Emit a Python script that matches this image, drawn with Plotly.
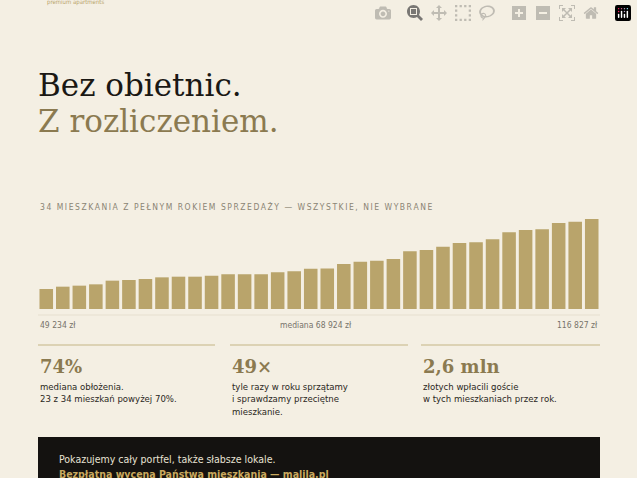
import plotly.graph_objects as go

## Datos: ingreso anual de 34 mieszkań (zł), posortowane
mieszkania = list(range(1, 35))
przychod = [49234, 51470, 52440, 53730, 57270, 57900, 58870, 60480, 61120, 61120,
            62090, 63380, 63380, 63500, 65310, 66270, 68800, 69050, 73350, 75600,
            76570, 78180, 85580, 86860, 90080, 93620, 94260, 97160, 103910, 106170,
            106810, 112920, 114210, 116827]
etykiety_osi = ["49 234 zł", "mediana 68 924 zł", "116 827 zł"]
statystyki = ["74%", "49×", "2,6 mln"]
opisy = ["mediana obłożenia.<br>23 z 34 mieszkań powyżej 70%.",
         "tyle razy w roku sprzątamy<br>i sprawdzamy przeciętne<br>mieszkanie.",
         "złotych wpłacili goście<br>w tych mieszkaniach przez rok."]

W, H = 637, 478
BG = "#f4efe3"
GOLD = "#b9a46b"
DARKGOLD = "#8b7a50"
SANS = "DejaVu Sans Condensed, DejaVu Sans"
SERIF = "DejaVu Serif"

def py(p):  # piksel -> współrzędna paper
    return 1 - p / H

def px_(p):
    return p / W

def rozstaw(s):
    return "\u2009".join(s)

fig = go.Figure(go.Bar(x=mieszkania, y=przychod, marker_color=GOLD,
                       marker_line_width=0, width=0.82))

fig.update_layout(
    width=W, height=H, margin=dict(l=0, r=0, t=0, b=0),
    paper_bgcolor=BG, plot_bgcolor=BG, showlegend=False,
    xaxis=dict(domain=[px_(38), px_(600)], range=[0.5, 34.5], visible=False),
    yaxis=dict(domain=[py(309), py(219)], range=[29900, 116827], visible=False),
)

ann = []
def tekst(x, y, t, size, color, font=SANS, anchor="left", yanchor="middle"):
    ann.append(dict(x=px_(x), y=py(y), xref="paper", yref="paper", text=t,
                    showarrow=False, xanchor=anchor, yanchor=yanchor, align="left",
                    font=dict(size=size, color=color, family=font)))

tekst(45, 2, "premium apartments", 6, "#b9a46b")
tekst(36, 85, "Bez obietnic.", 31, "#1a1814", SERIF)
tekst(36, 121, "Z rozliczeniem.", 31, DARKGOLD, SERIF)
tekst(38, 207, rozstaw("34 MIESZKANIA Z PEŁNYM ROKIEM SPRZEDAŻY — WSZYSTKIE, NIE WYBRANE"), 8.5, "#8a8474")
tekst(38, 325, etykiety_osi[0], 8.5, "#77736a")
tekst(316, 325, etykiety_osi[1], 8.5, "#77736a", anchor="center")
tekst(600, 325, etykiety_osi[2], 8.5, "#77736a", anchor="right")

shapes = [dict(type="line", xref="paper", yref="paper", x0=px_(38), x1=px_(600),
               y0=py(315), y1=py(315), line=dict(color="#e6dfcf", width=1))]
kolumny = [(38, 215), (230, 408), (421, 600)]
for (x0, x1), s, o in zip(kolumny, statystyki, opisy):
    shapes.append(dict(type="line", xref="paper", yref="paper", x0=px_(x0), x1=px_(x1),
                       y0=py(345), y1=py(345), line=dict(color="#d4c8a4", width=1.5)))
    tekst(x0, 366, "<b>" + s + "</b>", 18, DARKGOLD, SERIF)
    tekst(x0, 379, o, 9.5, "#2a2722", yanchor="top")

shapes.append(dict(type="rect", xref="paper", yref="paper", x0=px_(38), x1=px_(600),
                   y0=py(437), y1=0, fillcolor="#141210", line=dict(width=0), layer="below"))
tekst(57, 459, "Pokazujemy cały portfel, także słabsze lokale.", 10.5, "#e8e2d4")
tekst(57, 474, "<b>Bezpłatna wycena Państwa mieszkania — malila.pl</b>", 10.5, "#c9a95e")

fig.update_layout(annotations=ann, shapes=shapes)
fig.write_html("out.html",
               post_script="document.body.style.margin='0';document.body.style.background='#f4efe3';")
